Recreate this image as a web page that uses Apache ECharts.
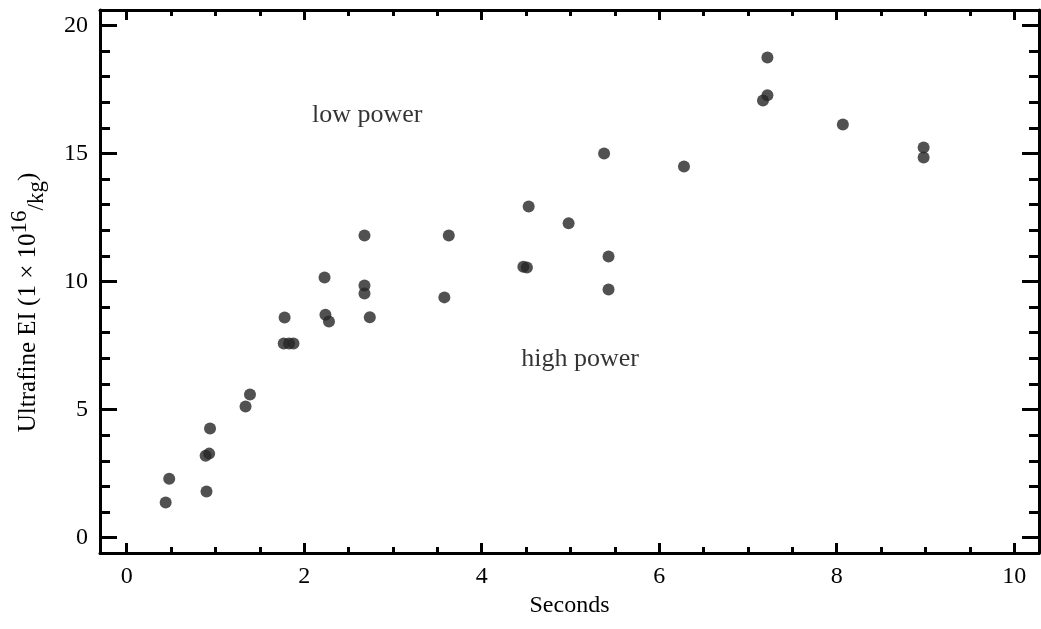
<!DOCTYPE html>
<html lang="en">
<head>
<meta charset="UTF-8">
<title>Ultrafine EI</title>
<script src="https://cdn.jsdelivr.net/npm/echarts@6/dist/echarts.min.js"></script>
<style>
  html, body { margin: 0; padding: 0; background: #fff; }
  #main { width: 1041px; height: 629px; }
</style>
</head>
<body>
<div id="main"></div>
<script>
// measured points (seconds, EI)
var secs = [0.44, 0.48, 0.90, 0.89, 0.93, 0.94, 1.34, 1.39, 1.78, 1.77, 1.83, 1.88,
            2.23, 2.24, 2.28, 2.68, 2.68, 2.68, 2.74, 3.58, 3.63, 4.47, 4.51, 4.53,
            4.98, 5.38, 5.43, 5.43, 6.28, 7.17, 7.22, 7.22, 8.07, 8.98, 8.98];
var ei   = [1.37, 2.30, 1.80, 3.20, 3.28, 4.26, 5.12, 5.59, 8.59, 7.58, 7.58, 7.58,
            10.16, 8.70, 8.44, 11.80, 9.84, 9.53, 8.60, 9.38, 11.80, 10.58, 10.55, 12.93,
            12.27, 15.00, 10.98, 9.69, 14.49, 17.07, 17.27, 18.75, 16.13, 15.23, 14.84];

// tick values
var xMajor = [0, 2, 4, 6, 8, 10];
var xMinor = [0.5, 1, 1.5, 2.5, 3, 3.5, 4.5, 5, 5.5, 6.5, 7, 7.5, 8.5, 9, 9.5];
var yMajor = [0, 5, 10, 15, 20];
var yMinor = [1, 2, 3, 4, 6, 7, 8, 9, 11, 12, 13, 14, 16, 17, 18, 19];

// text annotations
var noteX = [2.71, 5.11];
var noteY = [16.48, 6.95];
var noteText = ['low power', 'high power'];

var FONT = '"Liberation Serif", "Times New Roman", serif';

function axis(pos, lo, hi, ticks, len, withLine, withLabels) {
  return {
    type: 'value', position: pos, min: lo, max: hi,
    axisLine: { show: withLine, onZero: false, lineStyle: { color: '#000', width: 3 } },
    axisTick: { show: true, inside: true, length: len, customValues: ticks,
                lineStyle: { color: '#000', width: 3 } },
    axisLabel: { show: withLabels, customValues: ticks, margin: 12,
                 color: '#000', fontSize: 24, fontFamily: FONT },
    splitLine: { show: false }
  };
}

var xs = [
  axis('bottom', -0.3, 10.28, xMajor, 10, true, true),
  axis('bottom', -0.3, 10.28, xMinor, 6, false, false),
  axis('top', -0.3, 10.28, xMajor, 10, true, false),
  axis('top', -0.3, 10.28, xMinor, 6, false, false)
];
xs[0].name = 'Seconds';
xs[0].nameLocation = 'middle';
xs[0].nameGap = 36;
xs[0].nameTextStyle = { color: '#000', fontSize: 24, fontFamily: FONT };

var ys = [
  axis('left', -0.6, 20.6, yMajor, 17, true, true),
  axis('left', -0.6, 20.6, yMinor, 10, false, false),
  axis('right', -0.6, 20.6, yMajor, 17, true, false),
  axis('right', -0.6, 20.6, yMinor, 10, false, false)
];
ys[0].name = '{m|Ultrafine EI (1 × 10}{sup|16}{sub|/kg}{m|)}';
ys[0].nameLocation = 'middle';
ys[0].nameRotate = 90;
ys[0].nameGap = 52;
ys[0].nameTextStyle = {
  color: '#000', fontFamily: FONT, fontSize: 25,
  padding: [0, 42, 0, 0],
  rich: {
    m:   { fontSize: 25, fontFamily: FONT, color: '#000', lineHeight: 40, verticalAlign: 'middle' },
    sup: { fontSize: 23, fontFamily: FONT, color: '#000', lineHeight: 22, verticalAlign: 'top' },
    sub: { fontSize: 23, fontFamily: FONT, color: '#000', lineHeight: 30, verticalAlign: 'bottom' }
  }
};

var chart = echarts.init(document.getElementById('main'));
chart.setOption({
  animation: false,
  backgroundColor: '#fff',
  grid: { left: 95, right: 2, top: 10, bottom: 76 },
  xAxis: xs,
  yAxis: ys,
  series: [
    {
      type: 'scatter',
      symbol: 'circle',
      symbolSize: 12,
      itemStyle: { color: '#262626' },
      data: secs.map(function (s, i) { return [s, ei[i]]; })
    },
    {
      type: 'scatter',
      symbolSize: 0,
      silent: true,
      label: {
        show: true, position: 'inside', color: '#000',
        fontSize: 26, fontFamily: FONT,
        formatter: function (p) { return p.value[2]; }
      },
      data: noteX.map(function (x, i) { return [x, noteY[i], noteText[i]]; })
    }
  ]
});
</script>
</body>
</html>
